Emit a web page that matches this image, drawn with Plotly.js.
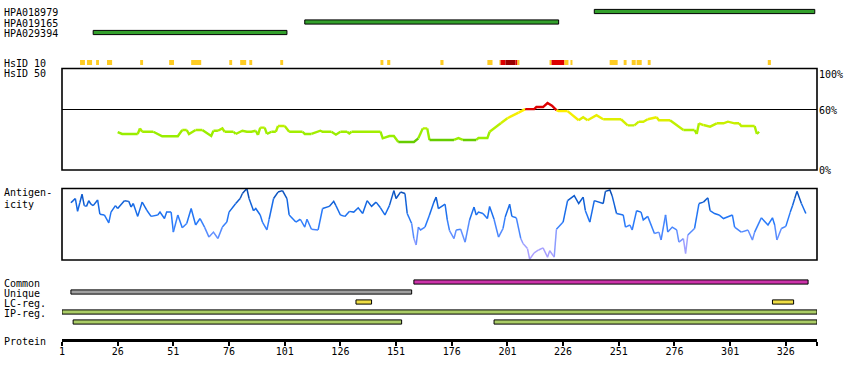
<!DOCTYPE html>
<html><head><meta charset="utf-8">
<script src="https://cdn.plot.ly/plotly-3.0.1.min.js"></script>
<style>html,body{margin:0;padding:0;background:#fff}#chart{width:850px;height:380px}</style>
</head><body><div id="chart"></div>
<script>
// ---------------- DATA ----------------
const proteinLength = 340;
const tickValues = [1, 26, 51, 76, 101, 126, 151, 176, 201, 226, 251, 276, 301, 326];
const tickLabels = ['1', '26', '51', '76', '101', '126', '151', '176', '201', '226', '251', '276', '301', '326'];

const antibodies = ['HPA018979', 'HPA019165', 'HPA029394'];
const abStart = [240, 110, 15];
const abEnd = [339, 224, 102];

// HsID 10 marks: 1 = low (yellow), 2 = high (red), 3 = highest (dark red)
const hsid10Start = [9.1, 12.2, 16.3, 21.2, 36.1, 49.1, 59, 76.1, 81, 85.1, 99, 144, 147, 170.9, 192, 197.4, 197.9, 200.1, 204.6, 205.5, 219.9, 220.8, 226.6, 229.3, 246.9, 253.2, 256.8, 259, 264, 317.9];
const hsid10End   = [11.3, 14.5, 17.6, 23.5, 37.4, 51.3, 63.5, 77.4, 83.7, 86.4, 100.3, 145.3, 148.4, 172.3, 194.3, 197.9, 200.1, 204.6, 205.5, 206.4, 220.8, 226.6, 228.4, 230.2, 250.5, 254.5, 258.6, 261.3, 265.3, 319.3];
const hsid10Level = [1, 1, 1, 1, 1, 1, 1, 1, 1, 1, 1, 1, 1, 1, 1, 1, 2, 3, 2, 1, 1, 2, 1, 1, 1, 1, 1, 1, 1, 1];

// HsID 50 (% identity)
const hsid50Res = [26, 28, 35, 36, 37, 42, 44, 46, 53, 55, 57, 58, 61, 64, 68, 69, 71, 73, 74, 76, 78, 79, 82, 84, 86, 88, 89, 90, 92, 93, 95, 97, 98, 101, 103, 109, 110, 113, 117, 118, 122, 124, 126, 129, 130, 131, 144, 145, 148, 150, 152, 159, 161, 163, 165, 166, 177, 179, 181, 187, 188, 192, 193, 198, 201, 206, 209, 213, 214, 217, 219, 221, 223, 224, 228, 233, 235, 237, 241, 244, 246, 252, 255, 258, 260, 262, 264, 268, 269, 274, 280, 285, 286, 287, 289, 292, 295, 298, 300, 303, 305, 306, 312, 313, 314];
const hsid50Pct = [37.4, 35.5, 35.5, 41, 37.7, 37.7, 35.5, 33.2, 33.2, 39.4, 39.4, 35.5, 39.4, 39.4, 33.5, 38.7, 38.7, 41, 37.7, 37.7, 37.7, 35.5, 38.7, 37.7, 37.7, 38.7, 34.5, 41.7, 41.7, 35.5, 37.7, 37.7, 43.3, 43.3, 37.7, 37.7, 35.5, 35.5, 38.7, 37.7, 37.7, 34.8, 37.7, 37.7, 36, 37.7, 37.7, 31.2, 33.5, 33.5, 27.6, 27.6, 31.2, 41, 41, 29.6, 29.6, 31.5, 29.6, 29.6, 31.5, 31.5, 37.7, 46, 51, 56.5, 60, 60, 62, 62, 66, 63.3, 59, 58, 58, 49, 52, 49, 54, 50, 50, 50, 44, 44, 47.6, 47.6, 50, 52, 49, 49, 39.4, 39.4, 35.5, 46, 44.3, 42.7, 46, 46, 47.6, 46, 46, 43.3, 43.3, 35.5, 37.7];

// Antigenicity (relative score 0-100)
const agRes = [5, 6, 7, 8, 9, 10, 11, 12, 13, 14, 15, 17, 18, 20, 22, 23, 25, 26, 29, 31, 32, 33, 35, 37, 39, 41, 44, 45, 47, 48, 50, 51, 53, 55, 57, 59, 61, 63, 65, 67, 69, 71, 73, 75, 76, 79, 81, 82, 84, 85, 87, 88, 90, 91, 93, 94, 96, 98, 100, 102, 103, 106, 108, 110, 111, 113, 116, 118, 121, 123, 124, 126, 128, 130, 132, 134, 136, 138, 140, 142, 144, 146, 148, 150, 151, 153, 155, 156, 158, 159, 160, 161, 162, 164, 166, 168, 169, 170, 173, 174, 175, 177, 178, 180, 182, 184, 186, 187, 188, 190, 192, 193, 195, 197, 199, 200, 202, 203, 205, 207, 208, 210, 211, 213, 215, 217, 219, 220, 222, 223, 226, 228, 231, 233, 235, 236, 238, 240, 244, 245, 247, 248, 250, 253, 254, 256, 257, 259, 261, 262, 264, 267, 269, 270, 272, 273, 275, 277, 278, 280, 281, 282, 285, 287, 289, 291, 292, 294, 296, 298, 302, 303, 306, 309, 311, 312, 315, 318, 320, 321, 322, 324, 326, 328, 329, 330, 331, 333, 335];
const agScore = [80, 83, 86, 68, 80, 92, 76, 75, 83, 78, 76, 84, 64, 63, 52, 67, 76, 72, 83, 82, 74, 79, 61, 81, 70, 61, 63, 67, 58, 67, 67, 39, 63, 45, 51, 72, 49, 58, 46, 32, 39, 30, 46, 53, 67, 79, 86, 93, 100, 86, 69, 72, 63, 53, 42, 57, 86, 95, 97, 86, 63, 53, 57, 46, 57, 43, 42, 72, 75, 82, 76, 63, 61, 68, 67, 73, 65, 83, 75, 81, 73, 63, 76, 97, 86, 95, 93, 65, 51, 30, 21, 46, 42, 46, 63, 81, 88, 72, 78, 56, 41, 30, 42, 43, 25, 56, 74, 63, 67, 65, 58, 75, 57, 32, 44, 60, 78, 61, 59, 30, 23, 16, 1, 10, 14, 17, 4, 13, 4, 43, 53, 83, 90, 79, 88, 69, 53, 83, 79, 96, 98, 90, 65, 63, 46, 49, 42, 69, 67, 56, 61, 37, 39, 28, 63, 39, 46, 42, 25, 30, 9, 35, 44, 79, 81, 87, 69, 65, 63, 58, 63, 46, 39, 42, 28, 39, 59, 49, 59, 49, 28, 44, 47, 67, 76, 86, 96, 79, 65];

// Protein features
const featLabels = ['Common', 'Unique', 'LC-reg.', 'IP-reg.'];
const featType  = ['Common', 'Unique', 'LC-reg.', 'LC-reg.', 'IP-reg.', 'IP-reg.', 'IP-reg.'];
const featLane  = [0, 1, 2, 2, 3, 4, 4];
const featStart = [159, 5, 133, 320, 1, 6, 195];
const featEnd   = [336, 158, 140, 329.5, 340, 153.5, 340];

// ---------------- STYLE ----------------
const FONT = 'DejaVu Sans Mono';
const featColors = {'Common': '#cc33aa', 'Unique': '#a0a0a0', 'LC-reg.': '#eedd44', 'IP-reg.': '#aacc66'};
const levelColors = {1: '#ffcc22', 2: '#dd0000', 3: '#990000'};
const H = 380, W = 850;
const py = p => 1 - p / H;

function hex2(v) { v = Math.max(0, Math.min(255, Math.round(v))); return v.toString(16).padStart(2, '0'); }
function interpStops(stops, v) {
  if (v <= stops[0][0]) return stops[0][1];
  for (let i = 1; i < stops.length; i++) {
    if (v <= stops[i][0]) {
      const t = (v - stops[i-1][0]) / (stops[i][0] - stops[i-1][0]);
      return stops[i-1][1].map((c, k) => c + t * (stops[i][1][k] - c));
    }
  }
  return stops[stops.length-1][1];
}
function hsColor(p) {
  if (p >= 59.5) return '#dd0000';
  if (p < 30.5) return '#66cc00';
  const q = Math.round(p / 2) * 2;
  const c = interpStops([[36, [153, 238, 0]], [46, [200, 240, 0]], [56, [255, 238, 0]]], q);
  return '#' + hex2(c[0]) + hex2(c[1]) + hex2(c[2]);
}
function agColor(s) {
  const q = Math.round(s / 5) * 5;
  const c = interpStops([[0, [176, 160, 255]], [20, [160, 160, 255]], [35, [100, 144, 255]], [55, [40, 122, 250]], [75, [20, 104, 228]], [100, [8, 72, 170]]], q);
  return '#' + hex2(c[0]) + hex2(c[1]) + hex2(c[2]);
}
function coloredLine(xs, ys, colorFn, yaxis, width) {
  const groups = {};
  const order = [];
  let cur = null, curColor = null;
  const flush = () => {
    if (!cur) return;
    if (!groups[curColor]) { groups[curColor] = {x: [], y: []}; order.push(curColor); }
    const g = groups[curColor];
    if (g.x.length) { g.x.push(null); g.y.push(null); }
    g.x.push(...cur.x); g.y.push(...cur.y);
  };
  for (let i = 0; i < xs.length - 1; i++) {
    const c = colorFn((ys[i] + ys[i+1]) / 2);
    if (c !== curColor) { flush(); cur = {x: [xs[i]], y: [ys[i]]}; curColor = c; }
    cur.x.push(xs[i+1]); cur.y.push(ys[i+1]);
  }
  flush();
  return order.map(c => ({type: 'scatter', mode: 'lines', x: groups[c].x, y: groups[c].y,
    xaxis: 'x', yaxis: yaxis, connectgaps: false, hoverinfo: 'skip',
    line: {color: c, width: width}}));
}

// ---------------- TRACES ----------------
const traces = [];
traces.push({type: 'bar', orientation: 'h', xaxis: 'x', yaxis: 'y',
  y: antibodies, base: abStart, x: abEnd.map((e, i) => e - abStart[i]), width: 0.4,
  marker: {color: '#33a02c', line: {color: '#000', width: 1}}, hoverinfo: 'skip'});
traces.push({type: 'bar', orientation: 'h', xaxis: 'x', yaxis: 'y2',
  y: hsid10Start.map(() => 0), base: hsid10Start, x: hsid10End.map((e, i) => e - hsid10Start[i]), width: 1,
  marker: {color: hsid10Level.map(l => levelColors[l]), line: {width: 0}}, hoverinfo: 'skip'});
traces.push(...coloredLine(hsid50Res, hsid50Pct, hsColor, 'y3', 2.4));
traces.push(...coloredLine(agRes, agScore, agColor, 'y4', 1.5));
traces.push({type: 'bar', orientation: 'h', xaxis: 'x', yaxis: 'y5',
  y: featLane, base: featStart, x: featEnd.map((e, i) => e - featStart[i]), width: 0.42,
  marker: {color: featType.map(t => featColors[t]), line: {color: '#000', width: 1}}, hoverinfo: 'skip'});

// ---------------- LAYOUT ----------------
const noAxis = {showgrid: false, zeroline: false, showticklabels: false, ticks: '', showline: false, fixedrange: true};
const ann = [];
const lab = (text, yPix, extra) => Object.assign({text, x: 2 / W, xref: 'paper', xanchor: 'left',
  y: py(yPix), yref: 'paper', yanchor: 'middle', yshift: -1, showarrow: false, font: {family: FONT, size: 10, color: '#000'}}, extra || {});
antibodies.forEach(a => ann.push(lab(a, 0, {y: a, yref: 'y'})));
ann.push(lab('HsID 10', 62.5));
ann.push(lab('HsID 50', 72.5));
ann.push(lab('Antigen-', 191.5));
ann.push(lab('icity', 203.5));
featLabels.forEach((f, i) => ann.push(lab(f, 0, {y: i, yref: 'y5'})));
ann.push(lab('Protein', 340.5));
const rlab = (text, v, anchor, ys) => ({text, x: 817 / W, xref: 'paper', xanchor: 'left', y: v, yref: 'y3',
  yanchor: anchor, yshift: ys, showarrow: false, font: {family: FONT, size: 10, color: '#000'}});
ann.push(rlab('100%', 100, 'top', 2));
ann.push(rlab('60%', 60, 'middle', -1));
ann.push(rlab('0%', 0, 'middle', 0));

const layout = {
  width: W, height: H, margin: {l: 0, r: 0, t: 0, b: 0, pad: 0},
  paper_bgcolor: '#fff', plot_bgcolor: 'rgba(0,0,0,0)', showlegend: false, barmode: 'overlay',
  font: {family: FONT, size: 10, color: '#000'},
  xaxis: {domain: [62 / W, 817 / W], range: [1, proteinLength], anchor: 'free', position: py(340),
    showline: true, linecolor: '#000', linewidth: 3, ticks: 'outside', ticklen: 4, tickwidth: 2, tickcolor: '#000',
    tickvals: tickValues.concat([proteinLength]), ticktext: tickLabels.concat(['']), ticklabelstandoff: -3,
    tickfont: {family: FONT, size: 10, color: '#000'}, showgrid: false, zeroline: false, fixedrange: true},
  yaxis: Object.assign({}, noAxis, {domain: [py(40), py(0)], type: 'category', categoryorder: 'array',
    categoryarray: antibodies, range: [2 + 7.5 / 10.5, -11.5 / 10.5], anchor: 'x'}),
  yaxis2: Object.assign({}, noAxis, {domain: [py(65), py(60)], range: [-0.5, 0.5], anchor: 'x'}),
  yaxis3: Object.assign({}, noAxis, {domain: [py(170), py(68.5)], range: [0, 100], anchor: 'x',
    showgrid: true, gridcolor: '#000', gridwidth: 1, tickvals: [60]}),
  yaxis4: Object.assign({}, noAxis, {domain: [py(260), py(188.5)], range: [0, 100], anchor: 'x'}),
  yaxis5: Object.assign({}, noAxis, {domain: [py(330), py(270)], range: [4.8, -1.2], anchor: 'x'}),
  shapes: [
    {type: 'rect', xref: 'x domain', yref: 'y3 domain', x0: 0, x1: 1, y0: 0, y1: 1, line: {color: '#000', width: 1.6}, fillcolor: 'rgba(0,0,0,0)', layer: 'above'},
    {type: 'rect', xref: 'x domain', yref: 'y4 domain', x0: 0, x1: 1, y0: 0, y1: 1, line: {color: '#000', width: 1.6}, fillcolor: 'rgba(0,0,0,0)', layer: 'above'}
  ],
  annotations: ann
};
Plotly.newPlot('chart', traces, layout, {staticPlot: true, displayModeBar: false});
</script></body></html>
